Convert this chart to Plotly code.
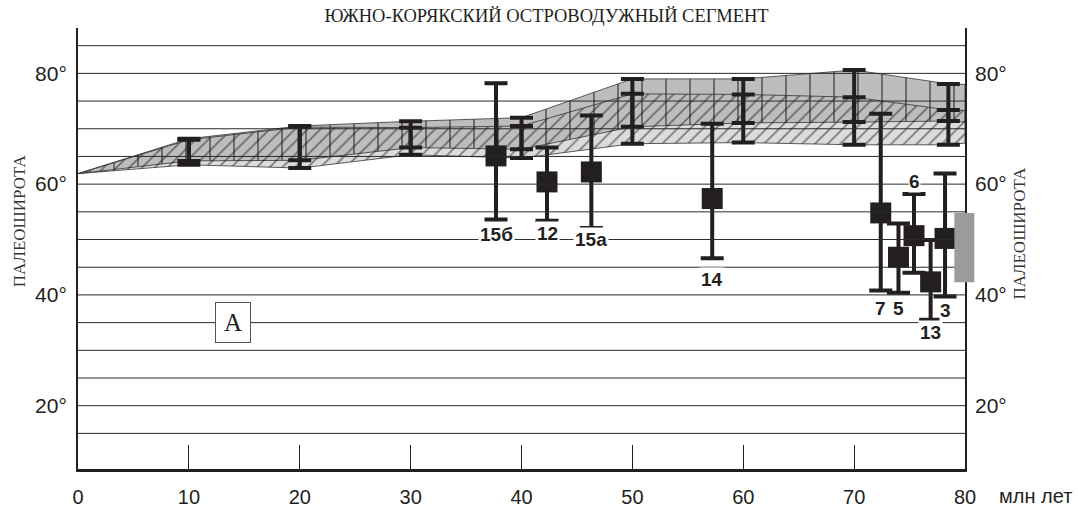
import plotly.graph_objects as go

# ---------------- data ----------------
# reference band (paleolatitude of the segment from the APWP), Ma vs degrees
band_age = [0, 10, 20, 30, 40, 50, 60, 70, 78.5, 80]
a_upper = [61.9, 68.2, 70.5, 71.35, 72.0, 79.0, 79.0, 80.6, 78.1, 78.0]
a_lower = [61.9, 64.2, 64.3, 66.6, 66.3, 70.35, 71.05, 71.2, 71.4, 71.2]
b_upper = [61.9, 68.0, 70.3, 70.2, 70.5, 76.3, 76.2, 75.7, 73.4, 73.3]
b_lower = [61.9, 63.5, 62.9, 65.3, 64.7, 67.3, 67.5, 67.1, 67.1, 67.4]

# I-beam error bars of the reference band
beam_age = [10, 20, 30, 40, 50, 60, 70, 78.5]
beam_a_top = [68.2, 70.5, 71.35, 72.0, 79.0, 79.0, 80.6, 78.1]
beam_a_bot = [64.2, 64.3, 66.6, 66.3, 70.35, 71.05, 71.2, 71.4]
beam_b_top = [68.0, 70.3, 70.2, 70.5, 76.3, 76.2, 75.7, 73.4]
beam_b_bot = [63.5, 62.9, 65.3, 64.7, 67.3, 67.5, 67.1, 67.1]

# paleomagnetic determinations
site_label = ["15б", "12", "15а", "14", "7", "5", "6", "13", "3"]
site_age = [37.7, 42.3, 46.3, 57.2, 72.4, 74.0, 75.4, 76.9, 78.2]
site_lat = [65.1, 60.4, 62.2, 57.4, 54.8, 46.8, 50.7, 42.35, 50.2]
site_max = [78.2, 66.6, 72.4, 70.9, 72.7, 52.9, 58.2, 49.9, 61.9]
site_min = [53.6, 53.4, 52.1, 46.6, 40.8, 40.4, 44.0, 35.5, 39.7]

present_lat = [42.3, 54.8]  # present-day latitude range (grey box)

grid_lat = [15, 20, 25, 30, 35, 40, 45, 50, 55, 60, 65, 70, 75, 80, 85]
x_tickvals = [0, 10, 20, 30, 40, 50, 60, 70, 80]
x_ticktext = ["0", "10", "20", "30", "40", "50", "60", "70", "80"]
y_tickvals = [20, 40, 60, 80]
y_ticktext = ["20°", "40°", "60°", "80°"]

# ---------------- styling ----------------
INK = "#231f20"
SANS = "Liberation Sans, Arial, sans-serif"
SERIF = "Liberation Serif, Times New Roman, serif"
# label offsets (px) relative to the bar ends: (anchor, shift, padding)
label_place = {"15б": ("min", -15, 1), "12": ("min", -13, 1), "15а": ("min", -12, 1),
               "14": ("min", -21, 1), "7": ("min", -18, 1), "5": ("min", -16, 1),
               "6": ("max", 13, 0), "13": ("min", -13, 1), "3": ("min", -14, 0)}

fig = go.Figure()

poly_x = band_age + band_age[::-1]
poly_a = a_upper + a_lower[::-1]
poly_b = b_upper + b_lower[::-1]

# light grey base of band B
fig.add_trace(go.Scatter(x=poly_x, y=poly_b, fill="toself", mode="lines",
                         fillcolor="#dcdcdc", line=dict(width=0),
                         hoverinfo="skip", showlegend=False))
# darker band A with vertical lines
fig.add_trace(go.Scatter(x=poly_x, y=poly_a, fill="toself", mode="lines",
                         fillcolor="#bdbdbd",
                         fillpattern=dict(shape="|", bgcolor="#bdbdbd", fgcolor="#111111",
                                          size=24, solidity=0.08),
                         line=dict(width=0.8, color="#333333"),
                         hoverinfo="skip", showlegend=False))
# diagonal hatch of band B
fig.add_trace(go.Scatter(x=poly_x, y=poly_b, fill="toself", mode="lines",
                         fillpattern=dict(shape="/", bgcolor="rgba(0,0,0,0)", fgcolor="#111111",
                                          size=9, solidity=0.18),
                         line=dict(width=0.8, color="#333333"),
                         hoverinfo="skip", showlegend=False))

# I-beams of the band
for tops, bots in ((beam_a_top, beam_a_bot), (beam_b_top, beam_b_bot)):
    mids = [(t + b) / 2 for t, b in zip(tops, bots)]
    half = [(t - b) / 2 for t, b in zip(tops, bots)]
    fig.add_trace(go.Scatter(x=beam_age, y=mids, mode="markers",
                             marker=dict(size=1, color="rgba(0,0,0,0)"),
                             error_y=dict(type="data", array=half, symmetric=True,
                                          color=INK, thickness=4, width=11.5),
                             hoverinfo="skip", showlegend=False))

# sites
fig.add_trace(go.Scatter(
    x=site_age, y=site_lat, mode="markers",
    marker=dict(symbol="square", size=21, color=INK, line=dict(width=0)),
    error_y=dict(type="data", symmetric=False,
                 array=[m - l for m, l in zip(site_max, site_lat)],
                 arrayminus=[l - m for l, m in zip(site_lat, site_min)],
                 color=INK, thickness=4, width=11.5),
    hoverinfo="skip", showlegend=False))

# dummy trace for the right axis
fig.add_trace(go.Scatter(x=[None], y=[None], yaxis="y2", showlegend=False, hoverinfo="skip"))

# grid lines (above the band fills, as in the original)
shapes = []
for g in grid_lat:
    shapes.append(dict(type="line", xref="x", yref="y", x0=0, x1=80, y0=g, y1=g,
                       line=dict(color="#2a2a2a", width=1), layer="above"))
# grey present-latitude box straddling the right axis
shapes.append(dict(type="rect", xref="x domain", yref="y", x0=0.988, x1=1.0105,
                   y0=present_lat[0], y1=present_lat[1],
                   fillcolor="#9b9b9b", line=dict(width=0), layer="above"))

annotations = []
for lab, a, lo, hi in zip(site_label, site_age, site_min, site_max):
    which, shift, pad = label_place[lab]
    annotations.append(dict(x=a, y=hi if which == "max" else lo, xref="x", yref="y",
                            xanchor="center", yanchor="middle",
                            text=f"<b>{lab}</b>", showarrow=False, yshift=shift,
                            font=dict(family=SANS, size=19, color=INK),
                            bgcolor="white", borderpad=pad))
annotations.append(dict(x=14.0, y=35.1, xref="x", yref="y", text="А", showarrow=False,
                        xanchor="center", yanchor="middle",
                        font=dict(family=SERIF, size=25, color=INK),
                        bgcolor="white", bordercolor="#555555", borderwidth=1,
                        width=32, height=37))
annotations.append(dict(x=-0.066, y=0.563, xref="paper", yref="paper", text="ПАЛЕОШИРОТА",
                        textangle=-90, showarrow=False, xanchor="center", yanchor="middle",
                        font=dict(family=SERIF, size=17, color="#333333")))
annotations.append(dict(x=1.062, y=0.536, xref="paper", yref="paper", text="ПАЛЕОШИРОТА",
                        textangle=-90, showarrow=False, xanchor="center", yanchor="middle",
                        font=dict(family=SERIF, size=17, color="#333333")))
annotations.append(dict(x=1.079, y=-0.062, xref="paper", yref="paper", text="млн лет",
                        showarrow=False, xanchor="center", yanchor="middle",
                        font=dict(family=SANS, size=20, color=INK)))

fig.update_layout(
    width=1078, height=514, autosize=False,
    margin=dict(l=78, r=113, t=28, b=45),
    paper_bgcolor="white", plot_bgcolor="white",
    title=dict(text="ЮЖНО-КОРЯКСКИЙ ОСТРОВОДУЖНЫЙ СЕГМЕНТ", x=0.507, y=0.969,
               xanchor="center", yanchor="middle", automargin=False,
               font=dict(family=SERIF, size=18.5, color=INK)),
    xaxis=dict(range=[0, 80], tickvals=x_tickvals, ticktext=x_ticktext, automargin=False,
               showgrid=False, zeroline=False, showline=True, linewidth=3, linecolor=INK,
               ticks="inside", ticklen=24, tickwidth=1, tickcolor=INK,
               tickfont=dict(family=SANS, size=20, color=INK), ticklabelstandoff=8,
               layer="below traces"),
    yaxis=dict(range=[8.57, 88.19], tickvals=y_tickvals, ticktext=y_ticktext, automargin=False,
               showgrid=False, zeroline=False, showline=True, linewidth=2, linecolor=INK,
               mirror=True, ticks="", tickfont=dict(family=SANS, size=21, color=INK),
               ticklabelstandoff=5, layer="below traces"),
    yaxis2=dict(range=[8.57, 88.19], overlaying="y", side="right", automargin=False,
                tickvals=y_tickvals, ticktext=y_ticktext, showgrid=False, zeroline=False,
                showline=False, ticks="", tickfont=dict(family=SANS, size=21, color=INK),
                ticklabelstandoff=9),
    shapes=shapes, annotations=annotations,
)

fig.write_html("out.html", config={"displayModeBar": False},
               post_script="document.body.style.margin='0px';document.body.style.overflow='hidden';")
